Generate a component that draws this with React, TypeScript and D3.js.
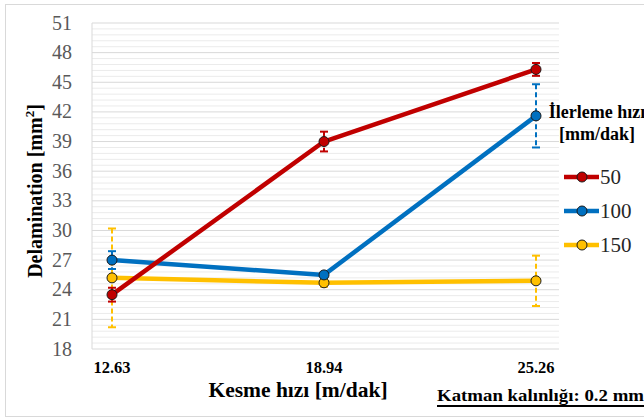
import React from "react";
import * as d3 from "d3";

const categories = ["12.63", "18.94", "25.26"];
const seriesNames = ["50", "100", "150"];
const values50 = [23.5, 39.0, 46.3];
const values100 = [27.0, 25.5, 41.6];
const values150 = [25.2, 24.7, 24.9];
const err50 = [0.7, 1.0, 0.65];
const err100 = [0.9, 0.3, 3.2];
const err150 = [5.0, 0.4, 2.55];
const yTicks = [18, 21, 24, 27, 30, 33, 36, 39, 42, 45, 48, 51];
const colors = ["#C00000", "#0070C0", "#FFC000"];

const W = 644;
const H = 419;
const plot = { left: 92, right: 559, top: 23, bottom: 349 };
const FONT = "Liberation Serif, Times New Roman, DejaVu Serif, serif";

export default function App() {
  const x = d3.scalePoint<string>().domain(categories).range([112, 536]);
  const y = d3.scaleLinear().domain([18, 51]).range([plot.bottom, plot.top]);
  const minorTicks = d3.range(18, 51.001, 0.6).filter((v) => Math.abs((v - 18) / 3 - Math.round((v - 18) / 3)) > 0.01);

  const series = [
    { name: seriesNames[0], vals: values50, errs: err50, color: colors[0] },
    { name: seriesNames[1], vals: values100, errs: err100, color: colors[1] },
    { name: seriesNames[2], vals: values150, errs: err150, color: colors[2] },
  ];

  const line = d3
    .line<number>()
    .x((_, i) => x(categories[i]) as number)
    .y((d) => y(d));

  const drawOrder = [2, 1, 0];
  const ts = { fontFamily: FONT };

  return (
    <svg
      width={W}
      height={H}
      style={{ position: "absolute", left: 0, top: 0, background: "#fff", fontFamily: FONT }}
    >
      <rect x={5.5} y={4.5} width={W + 10} height={412} fill="#fff" stroke="#d9d9d9" strokeWidth={1} />

      {minorTicks.map((v, i) => (
        <line key={"mn" + i} x1={plot.left} x2={plot.right} y1={y(v)} y2={y(v)} stroke="#ebebeb" strokeWidth={1} />
      ))}
      {yTicks.map((v) => (
        <line key={"mj" + v} x1={plot.left} x2={plot.right} y1={y(v)} y2={y(v)} stroke="#d9d9d9" strokeWidth={1} />
      ))}
      <line x1={plot.left} x2={plot.left} y1={plot.top} y2={plot.bottom} stroke="#d9d9d9" strokeWidth={1} />

      {yTicks.map((v) => (
        <text key={"yt" + v} style={ts} x={72} y={y(v) + 6.5} textAnchor="end" fontSize={20} fill="#595959">
          {v}
        </text>
      ))}
      {categories.map((c) => (
        <text key={"xt" + c} style={ts} x={x(c) as number} y={373} textAnchor="middle" fontSize={16.5} fontWeight="bold" fill="#000">
          {c}
        </text>
      ))}

      {drawOrder.map((si) => {
        const s = series[si];
        return (
          <g key={"eb" + si}>
            {s.vals.map((v, i) => {
              const cx = x(categories[i]) as number;
              const y1 = y(v + s.errs[i]);
              const y2 = y(v - s.errs[i]);
              return (
                <g key={i}>
                  <line x1={cx} x2={cx} y1={y1} y2={y2} stroke={s.color} strokeWidth={2} strokeDasharray="5,3" />
                  <line x1={cx - 4} x2={cx + 4} y1={y1} y2={y1} stroke={s.color} strokeWidth={2} />
                  <line x1={cx - 4} x2={cx + 4} y1={y2} y2={y2} stroke={s.color} strokeWidth={2} />
                </g>
              );
            })}
          </g>
        );
      })}

      {drawOrder.map((si) => {
        const s = series[si];
        return (
          <path key={"ln" + si} d={line(s.vals) || ""} fill="none" stroke={s.color} strokeWidth={4.5} strokeLinejoin="round" />
        );
      })}
      {drawOrder.map((si) => {
        const s = series[si];
        return (
          <g key={"mk" + si}>
            {s.vals.map((v, i) => (
              <circle key={i} cx={x(categories[i]) as number} cy={y(v)} r={5} fill={s.color} stroke="#1a1a1a" strokeWidth={1} />
            ))}
          </g>
        );
      })}

      <text
        style={ts}
        transform={`translate(42, ${191}) rotate(-90)`}
        textAnchor="middle"
        fontSize={20}
        fontWeight="bold"
        fill="#000"
      >
        Delamination [mm<tspan dy={-8} fontSize={13}>2</tspan>
        <tspan dy={8}>]</tspan>
      </text>
      <text style={ts} x={298} y={397} textAnchor="middle" fontSize={21.5} fontWeight="bold" fill="#000">
        Kesme hızı [m/dak]
      </text>
      <text
        style={ts}
        x={437}
        y={401}
        fontSize={17}
        fontWeight="bold"
        fill="#000"
        textLength={207}
        lengthAdjust="spacingAndGlyphs"
      >
        Katman kalınlığı: 0.2 mm
      </text>
      <line x1={437} x2={644} y1={406} y2={406} stroke="#000" strokeWidth={2} />

      <text style={ts} x={597} y={118} textAnchor="middle" fontSize={18} fontWeight="bold" fill="#000">
        İlerleme hızı
      </text>
      <text style={ts} x={597} y={140} textAnchor="middle" fontSize={18} fontWeight="bold" fill="#000">
        [mm/dak]
      </text>
      {series.map((s, i) => {
        const ly = 177 + i * 34;
        return (
          <g key={"lg" + i}>
            <line x1={564} x2={599} y1={ly} y2={ly} stroke={s.color} strokeWidth={4.5} />
            <circle cx={582} cy={ly} r={5} fill={s.color} stroke="#1a1a1a" strokeWidth={1} />
            <text style={ts} x={600} y={ly + 7} fontSize={21} fill="#262626">
              {s.name}
            </text>
          </g>
        );
      })}
    </svg>
  );
}
